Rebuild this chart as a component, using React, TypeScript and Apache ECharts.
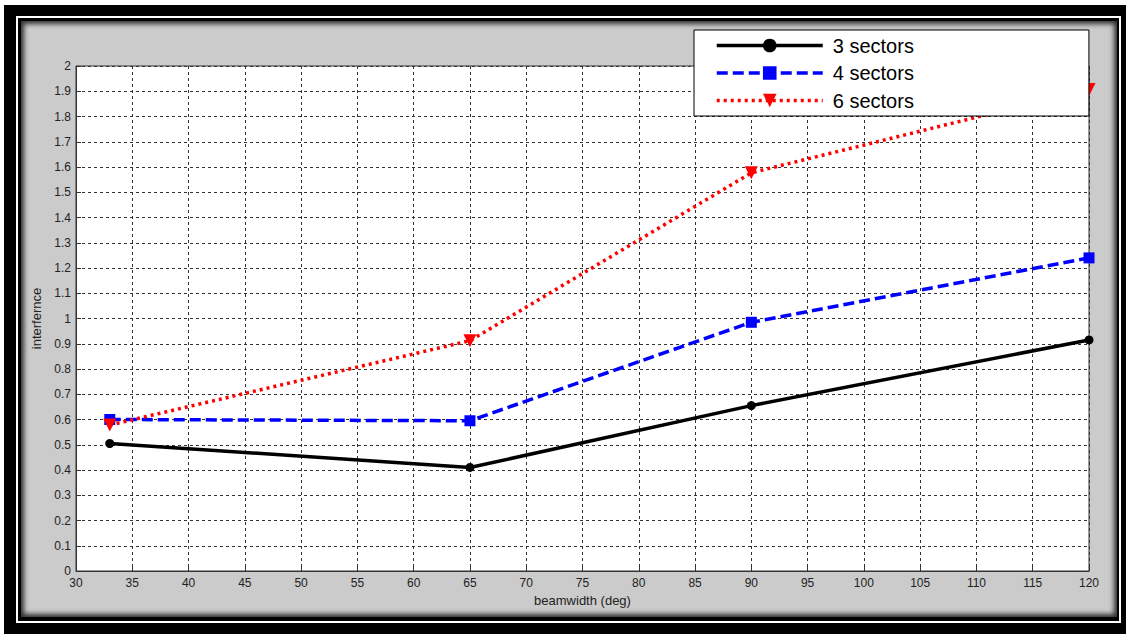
import React, { useEffect, useRef } from "react";
import * as echarts from "echarts";

const beamwidth = [33, 65, 90, 120];
const sectors3 = [0.505, 0.41, 0.655, 0.915];
const sectors4 = [0.6, 0.595, 0.985, 1.24];
const sectors6 = [0.578, 0.912, 1.577, 1.907];
const seriesNames = ["3 sectors", "4 sectors", "6 sectors"];
const xLabel = "beamwidth (deg)";
const yLabel = "interfernce";

const FONT = "'Liberation Sans', Arial, sans-serif";

function pairs(ys: number[]) {
  return beamwidth.map((x, i) => [x, ys[i]]);
}

export default function App() {
  const ref = useRef<HTMLDivElement>(null);
  useEffect(() => {
    if (!ref.current) return;
    const chart = echarts.init(ref.current, undefined, { renderer: "svg" });
    const gridLine = { show: true, lineStyle: { color: "#333", type: [3, 3] as any, width: 1 } };
    chart.setOption({
      animation: false,
      backgroundColor: "transparent",
      grid: {
        left: 76,
        top: 66,
        right: 37,
        bottom: 63,
        show: true,
        backgroundColor: "#fff",
        borderColor: "#333",
        borderWidth: 1,
      },
      legend: {
        data: seriesNames,
        orient: "vertical",
        left: 694,
        top: 30,
        itemWidth: 106,
        itemHeight: 17,
        itemGap: 7.5,
        padding: [5.5, 175, 5.5, 21],
        backgroundColor: "#fff",
        borderColor: "#000",
        borderWidth: 1,
        lineStyle: { width: 3.5 },
        textStyle: {
          fontSize: 20,
          lineHeight: 20,
          color: "#000",
          fontFamily: FONT,
          padding: [0, 0, 0, 5],
        },
      },
      xAxis: {
        type: "value",
        min: 30,
        max: 120,
        interval: 5,
        name: xLabel,
        nameLocation: "middle",
        nameGap: 23,
        nameTextStyle: { fontSize: 13, color: "#222", fontFamily: FONT },
        axisLine: { show: true, lineStyle: { color: "#333", width: 1 } },
        axisTick: { show: true, inside: true, length: 5, lineStyle: { color: "#333" } },
        axisLabel: { color: "#222", fontSize: 12, fontFamily: FONT, margin: 6 },
        splitLine: gridLine,
      },
      yAxis: {
        type: "value",
        min: 0,
        max: 2,
        interval: 0.1,
        name: yLabel,
        nameLocation: "middle",
        nameGap: 32,
        nameTextStyle: { fontSize: 13, color: "#222", fontFamily: FONT },
        axisLine: { show: true, lineStyle: { color: "#333", width: 1 } },
        axisTick: { show: true, inside: true, length: 5, lineStyle: { color: "#333" } },
        axisLabel: {
          color: "#222",
          fontSize: 12,
          fontFamily: FONT,
          margin: 5,
          formatter: (v: number) => String(Math.round(v * 10) / 10),
        },
        splitLine: gridLine,
      },
      series: [
        {
          name: seriesNames[0],
          type: "line",
          data: pairs(sectors3),
          symbol: "circle",
          symbolSize: 9,
          itemStyle: { color: "#000" },
          lineStyle: { color: "#000", width: 3.5 },
        },
        {
          name: seriesNames[1],
          type: "line",
          data: pairs(sectors4),
          symbol: "rect",
          symbolSize: 11,
          itemStyle: { color: "#0000ff" },
          lineStyle: { color: "#0000ff", width: 3.5, type: [11, 5] as any },
        },
        {
          name: seriesNames[2],
          type: "line",
          data: pairs(sectors6),
          symbol: "triangle",
          symbolRotate: 180,
          symbolSize: 13,
          itemStyle: { color: "#ff0000" },
          lineStyle: { color: "#ff0000", width: 3.5, type: [3, 4] as any },
        },
      ],
    });
    return () => chart.dispose();
  }, []);

  return (
    <div style={{ position: "absolute", left: 0, top: 0, width: 1126, height: 634, background: "#fff", overflow: "hidden" }}>
      <div style={{ position: "absolute", left: 4, top: 5, width: 1122, height: 629, background: "#000" }} />
      <div style={{ position: "absolute", left: 16, top: 16, width: 1105, height: 607, background: "#fff" }} />
      <div style={{ position: "absolute", left: 18, top: 18, width: 1101, height: 603, background: "#000" }} />
      <div
        style={{
          position: "absolute",
          left: 21,
          top: 21,
          width: 1096,
          height: 596,
          background: "#cbcbcb",
          boxShadow: "inset 3px 3px 5px #333, inset -3px -3px 5px #333",
        }}
      />
      <div ref={ref} style={{ position: "absolute", left: 0, top: 0, width: 1126, height: 634 }} />
    </div>
  );
}
